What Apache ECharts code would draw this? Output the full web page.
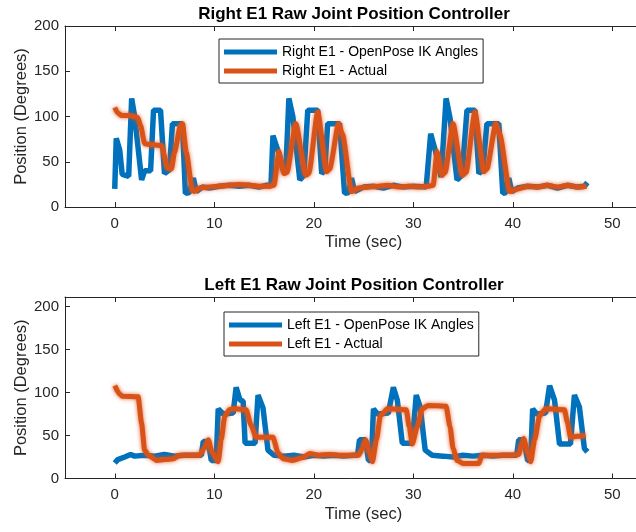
<!DOCTYPE html>
<html>
<head>
<meta charset="utf-8">
<script src="https://cdn.jsdelivr.net/npm/echarts@6/dist/echarts.min.js"></script>
<style>
  html, body { margin: 0; padding: 0; background: #fff; }
  #chart { width: 636px; height: 532px; }
</style>
</head>
<body>
<div id="chart"></div>
<script>
// Elbow (E1) joint position, time in seconds vs. angle in degrees
const xTicks = [0, 10, 20, 30, 40, 50];
const yTicks = [0, 50, 100, 150, 200];

const rightIK = [
  [0,20],[0.15,76],[0.5,63],[0.75,36],[1.4,34],[1.7,120],[2.0,100],[2.7,30],[3.0,40],[3.6,40],
  [3.9,107],[4.6,107],[5.0,37],[5.5,41],[5.8,92],[6.8,92],[7.1,15],[7.5,16],[7.9,32],[8.2,17],
  [8.8,22],[9.5,21],[10.5,23],[11.5,24],[12.5,23],[13.5,24],[14.5,22],[15.3,24],[15.7,23],
  [15.9,79],[16.5,59],[16.9,41],[17.2,42],[17.5,120],[17.9,100],[18.6,30],[19.0,35],[19.4,107],
  [20.4,107],[20.8,37],[21.1,40],[21.4,92],[22.6,92],[23.1,15],[23.5,16],[23.8,32],[24.1,17],
  [25,22],[26,23],[27,21],[28,24],[29,22],[30,23],[31.3,22],[31.75,81],[32.25,61],[32.8,33],
  [33.3,120],[33.7,98],[34.4,30],[34.9,35],[35.4,107],[36.2,107],[36.6,37],[37,41],[37.4,92],
  [38.6,92],[39,15],[39.3,16],[39.6,32],[39.9,17],[40.5,21],[41.5,23],[42.5,22],[43.5,24],
  [44.5,21],[45.5,24],[46.5,22],[47.2,23],[47.5,27]
];

const rightActual = [
  [0,110],[0.3,104],[0.7,101],[1.5,101],[2.3,99],[2.6,90],[3.0,70],[3.5,69],[4.7,68],[5.3,43],
  [5.7,42],[6.0,60],[6.6,90],[6.8,92],[7.2,60],[7.8,18],[8.0,17],[8.5,21],[9.5,22],[10.5,23],
  [11.5,24],[12.5,25],[13.5,24],[14.5,23],[15.5,23],[16.0,24],[16.5,61],[17.0,37],[17.3,38],
  [18.2,92],[19.2,35],[19.5,37],[20.4,105],[21.3,39],[21.6,42],[22.5,92],[22.9,80],[23.8,17],
  [24.5,21],[25.5,22],[26.5,23],[27.5,24],[28.5,22],[29.5,23],[30.5,22],[31.5,23],[32,24],
  [32.4,61],[32.9,35],[33.2,38],[34,92],[34.95,35],[35.3,38],[36.2,105],[37.1,39],[37.4,42],
  [38.3,92],[38.7,80],[39.7,17],[40.5,20],[41.5,23],[42.5,22],[43.5,24],[44.5,22],[45.5,24],
  [46.5,22],[47.4,23]
];

const leftIK = [
  [0,18],[0.3,22],[1.0,25],[1.6,28],[2.0,26],[3,27],[4,26],[5,28],[6,26],[7,27],[8,27],[8.7,27],
  [8.9,43],[9.4,43],[9.7,21],[10.2,21],[10.4,81],[10.9,75],[11.9,76],[12.2,106],[12.6,91],
  [12.9,90],[13.1,41],[14.1,41],[14.4,97],[14.9,82],[15.4,33],[16.0,27],[17,26],[18,27],[19,25],
  [20,27],[21,26],[22,27],[23,26],[24,27],[24.4,27],[24.6,45],[25.2,45],[25.5,21],[25.8,21],
  [26.0,81],[26.4,75],[27.5,76],[28.0,106],[28.4,91],[28.6,90],[28.9,41],[29.9,41],[30.3,97],
  [30.7,83],[31.2,33],[31.9,27],[33,26],[34,25],[35,27],[36,26],[37,27],[38,26],[39,27],
  [40.4,27],[40.6,45],[41.1,45],[41.5,21],[41.8,21],[42.0,81],[42.4,75],[43.3,76],[43.7,108],
  [44.2,91],[44.4,90],[44.7,40],[45.8,40],[46.2,97],[46.7,83],[47.2,35],[47.5,31]
];

const leftActual = [
  [0,108],[0.5,98],[0.8,95.5],[2.35,95],[2.7,64],[3.0,33],[3.4,27],[4.2,21],[5.0,22],[5.9,23],
  [6.5,27],[7.5,27],[8.5,27],[9.0,35],[9.4,45],[9.8,30],[10.4,19.5],[10.7,45],[11.05,72],
  [11.5,80],[12,81],[13.2,80],[13.7,62],[14.2,48],[15.9,48],[16.4,30],[16.9,23],[17.9,21],
  [18.8,24],[19.6,29],[20.5,27],[21.5,28],[22.5,27],[23.5,27],[24.5,27],[24.9,35],[25.2,45],
  [25.6,30],[25.9,19.5],[26.3,45],[26.7,73],[27.4,81],[29.3,80],[29.6,60],[29.9,40],[30.4,60],
  [30.9,81],[31.5,85],[33.3,84],[33.7,60],[34.0,35],[34.4,21],[35,17.5],[36.6,17.5],[36.9,27],
  [38,27],[39,27],[40,27],[40.6,28],[40.9,40],[41.1,46.5],[41.5,30],[41.8,19.5],[42.2,45],
  [42.7,73],[43.3,81],[45.2,80],[45.5,65],[45.8,48],[46.5,49],[47.3,50]
];

const FONT = '"Liberation Sans", Arial, Helvetica, sans-serif';
const AXIS_COLOR = '#262626';
const BLUE = '#0072BD';
const ORANGE = '#D95319';

function bottomX(gridIndex) {
  return {
    type: 'value', gridIndex, min: -5, max: 55, position: 'bottom',
    name: 'Time (sec)', nameLocation: 'middle', nameGap: 27, nameMoveOverlap: false,
    nameTextStyle: { fontSize: 16.5, color: AXIS_COLOR, fontFamily: FONT },
    axisLine: { show: true, onZero: false, lineStyle: { color: AXIS_COLOR, width: 1 } },
    axisTick: { show: true, inside: true, length: 5, customValues: xTicks, lineStyle: { color: AXIS_COLOR } },
    axisLabel: { show: true, customValues: xTicks, fontSize: 15, color: AXIS_COLOR, fontFamily: FONT, margin: 9 },
    splitLine: { show: false }
  };
}
function topX(gridIndex) {
  return {
    type: 'value', gridIndex, min: -5, max: 55, position: 'top',
    axisLine: { show: true, onZero: false, lineStyle: { color: AXIS_COLOR, width: 1 } },
    axisTick: { show: true, inside: true, length: 5, customValues: xTicks, lineStyle: { color: AXIS_COLOR } },
    axisLabel: { show: false },
    splitLine: { show: false }
  };
}
function leftY(gridIndex, max) {
  return {
    type: 'value', gridIndex, min: 0, max, position: 'left',
    name: 'Position (Degrees)', nameLocation: 'middle', nameGap: 35, nameMoveOverlap: false,
    nameTextStyle: { fontSize: 16.5, color: AXIS_COLOR, fontFamily: FONT },
    axisLine: { show: true, onZero: false, lineStyle: { color: AXIS_COLOR, width: 1 } },
    axisTick: { show: true, inside: true, length: 5, customValues: yTicks, lineStyle: { color: AXIS_COLOR } },
    axisLabel: { show: true, customValues: yTicks, fontSize: 15, color: AXIS_COLOR, fontFamily: FONT, margin: 6 },
    splitLine: { show: false }
  };
}
function legendAt(left, top, names) {
  return {
    orient: 'vertical', left, top, data: names,
    icon: 'rect', itemWidth: 53, itemHeight: 5, itemGap: 3,
    padding: [5, 5, 4, 5],
    borderColor: '#262626', borderWidth: 1, backgroundColor: '#fff',
    textStyle: { fontSize: 14, color: '#000', fontFamily: FONT, lineHeight: 16 }
  };
}
function ikSeries(name, data, xi, yi) {
  return {
    name, type: 'line', data, xAxisIndex: xi, yAxisIndex: yi,
    showSymbol: false, symbol: 'none', color: BLUE,
    lineStyle: { color: BLUE, width: 5.5 }, z: 2
  };
}
function actualSeries(name, data, xi, yi) {
  return {
    name, type: 'line', data, xAxisIndex: xi, yAxisIndex: yi,
    showSymbol: false, symbol: 'none', color: ORANGE, smooth: 0.2, smoothMonotone: 'x',
    lineStyle: { color: ORANGE, width: 5, shadowBlur: 4, shadowColor: 'rgba(217,83,25,0.85)' }, z: 3
  };
}

const chart = echarts.init(document.getElementById('chart'), null, { renderer: 'canvas' });
chart.setOption({
  animation: false,
  backgroundColor: '#fff',
  textStyle: { fontFamily: FONT },
  grid: [
    { left: 65, top: 26, width: 597, height: 181, containLabel: false, outerBoundsMode: 'none' },
    { left: 65, top: 297, width: 597, height: 181.5, containLabel: false, outerBoundsMode: 'none' }
  ],
  xAxis: [bottomX(0), topX(0), bottomX(1), topX(1)],
  yAxis: [leftY(0, 200), leftY(1, 211)],
  legend: [
    legendAt(219, 39, ['Right E1 - OpenPose IK Angles', 'Right E1 - Actual']),
    legendAt(224, 312, ['Left E1 - OpenPose IK Angles', 'Left E1 - Actual'])
  ],
  graphic: [
    { type: 'text', x: 354, y: 14, style: { text: 'Right E1 Raw Joint Position Controller', textAlign: 'center', textVerticalAlign: 'middle', font: 'bold 17px ' + FONT, fill: '#000' } },
    { type: 'text', x: 354, y: 285, style: { text: 'Left E1 Raw Joint Position Controller', textAlign: 'center', textVerticalAlign: 'middle', font: 'bold 17px ' + FONT, fill: '#000' } }
  ],
  series: [
    ikSeries('Right E1 - OpenPose IK Angles', rightIK, 0, 0),
    actualSeries('Right E1 - Actual', rightActual, 0, 0),
    ikSeries('Left E1 - OpenPose IK Angles', leftIK, 2, 1),
    actualSeries('Left E1 - Actual', leftActual, 2, 1)
  ]
});
</script>
</body>
</html>
